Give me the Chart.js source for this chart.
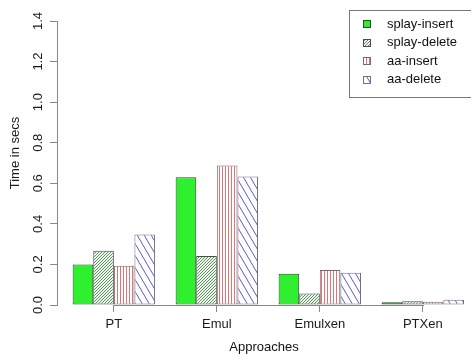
<!DOCTYPE html>
<html>
<head>
<meta charset="utf-8">
<script src="https://cdn.jsdelivr.net/npm/chart.js@4/dist/chart.umd.min.js"></script>
<style>
  html, body { margin: 0; padding: 0; background: #ffffff; overflow: hidden; }
  canvas { display: block; }
</style>
</head>
<body>
<canvas id="chart" width="471" height="358"></canvas>
<script>
// Categories, series and tick labels
const categories = ['PT', 'Emul', 'Emulxen', 'PTXen'];
const seriesNames = ['splay-insert', 'splay-delete', 'aa-insert', 'aa-delete'];
const splayInsert = [0.200, 0.630, 0.154, 0.013];
const splayDelete = [0.267, 0.241, 0.057, 0.018];
const aaInsert    = [0.193, 0.688, 0.172, 0.016];
const aaDelete    = [0.348, 0.634, 0.159, 0.026];
const yTickValues = [0.0, 0.2, 0.4, 0.6, 0.8, 1.0, 1.2, 1.4];

const FONT = '"Liberation Sans", Arial, Helvetica, sans-serif';
const canvas = document.getElementById('chart');
const ctx = canvas.getContext('2d');

// Build a repeating fill pattern from a small tile
function makePattern(w, h, bg, paint) {
  const tile = document.createElement('canvas');
  tile.width = w; tile.height = h;
  const g = tile.getContext('2d');
  g.fillStyle = bg;
  g.fillRect(0, 0, w, h);
  paint(g, w, h);
  return ctx.createPattern(tile, 'repeat');
}

// dense 45° hatching, dark green
const denseGreen = makePattern(3, 3, '#eef4ee', (g) => {
  g.fillStyle = '#5f925f';
  g.fillRect(2, 0, 1, 1);
  g.fillRect(1, 1, 1, 1);
  g.fillRect(0, 2, 1, 1);
});

// vertical red lines
const verticalRed = makePattern(3, 1, '#ffffff', (g) => {
  g.fillStyle = '#e07474';
  g.fillRect(0, 0, 1, 1);
});

// steep back-slash blue lines
const slashBlue = makePattern(7, 12, '#ffffff', (g, w, h) => {
  g.strokeStyle = '#5a5ad4';
  g.lineWidth = 1;
  for (const dx of [-w, 0, w]) {
    g.beginPath();
    g.moveTo(dx, 0);
    g.lineTo(dx + w, h);
    g.stroke();
  }
});

const seriesValues = [splayInsert, splayDelete, aaInsert, aaDelete];
const fills = ['#2ef02e', denseGreen, verticalRed, slashBlue];
const borders = ['#2a4a2a', '#4a4a4a', '#7a6a6a', '#70707a'];

const datasets = seriesNames.map((name, s) => ({
  label: name,
  data: seriesValues[s].map((v, i) => ({ x: i, y: v })),
  backgroundColor: fills[s],
  borderColor: borders[s],
  borderWidth: 1,
  borderSkipped: false
}));

// Rotated y tick labels, y title, x baseline and the legend box
const decorations = {
  id: 'decorations',
  afterDraw(chart) {
    const c = chart.ctx;
    const xs = chart.scales.x;
    const ys = chart.scales.y;
    const area = chart.chartArea;
    c.save();

    // baseline from the first to the last category tick
    c.strokeStyle = '#888888';
    c.lineWidth = 1;
    c.beginPath();
    const yb = Math.round(area.bottom) + 0.5;
    c.moveTo(Math.round(xs.getPixelForValue(0)), yb);
    c.lineTo(Math.round(xs.getPixelForValue(categories.length - 1)) + 1, yb);
    c.stroke();

    // y tick labels, written vertically
    c.fillStyle = '#1a1a1a';
    c.font = '13px ' + FONT;
    c.textAlign = 'center';
    c.textBaseline = 'middle';
    yTickValues.forEach((v) => {
      const py = ys.getPixelForValue(v);
      c.save();
      c.translate(38, py);
      c.rotate(-Math.PI / 2);
      c.fillText(v.toFixed(1), 0, 0);
      c.restore();
    });

    // y axis title
    c.save();
    c.translate(15, 153);
    c.rotate(-Math.PI / 2);
    c.fillText('Time in secs', 0, 0);
    c.restore();

    // legend
    const lx = 349, ly = 10, lw = 140, lh = 87;
    c.fillStyle = '#ffffff';
    c.fillRect(lx, ly, lw, lh);
    c.strokeStyle = '#777777';
    c.strokeRect(lx + 0.5, ly + 0.5, lw, lh);
    c.textAlign = 'left';
    chart.data.datasets.forEach((ds, i) => {
      const cy = 24.3 + i * 18.5;
      c.fillStyle = ds.backgroundColor;
      c.fillRect(363, Math.round(cy - 4), 8, 8);
      c.strokeStyle = ds.borderColor;
      c.strokeRect(363.5, Math.round(cy - 4) + 0.5, 7, 7);
      c.fillStyle = '#111111';
      c.fillText(ds.label, 387, cy);
    });

    c.restore();
  }
};

new Chart(ctx, {
  type: 'bar',
  data: { datasets },
  plugins: [decorations],
  options: {
    responsive: false,
    animation: false,
    layout: { padding: { top: 21, left: 0, right: 0, bottom: 0 } },
    datasets: { bar: { categoryPercentage: 0.8, barPercentage: 1.0 } },
    plugins: { legend: { display: false }, tooltip: { enabled: false } },
    scales: {
      x: {
        type: 'linear',
        min: -0.552,
        max: 3.468,
        offset: false,
        afterBuildTicks: (s) => { s.ticks = categories.map((_, i) => ({ value: i })); },
        afterFit: (s) => { s.height = 53; },
        ticks: {
          callback: (v) => categories[v] ?? '',
          font: { family: FONT, size: 13 },
          color: '#1a1a1a',
          padding: 5,
          maxRotation: 0,
          autoSkip: false
        },
        grid: { offset: false, drawOnChartArea: false, drawTicks: true, tickLength: 7, color: '#888888' },
        border: { display: false },
        title: {
          display: true,
          text: 'Approaches',
          font: { family: FONT, size: 13 },
          color: '#111111',
          padding: { top: 0, bottom: 3 }
        }
      },
      y: {
        min: 0,
        max: 1.4,
        afterFit: (s) => { s.width = 57; },
        ticks: { stepSize: 0.2, display: false },
        grid: { drawOnChartArea: false, drawTicks: true, tickLength: 7, color: '#888888' },
        border: { display: true, color: '#888888' }
      }
    }
  }
});
</script>
</body>
</html>
